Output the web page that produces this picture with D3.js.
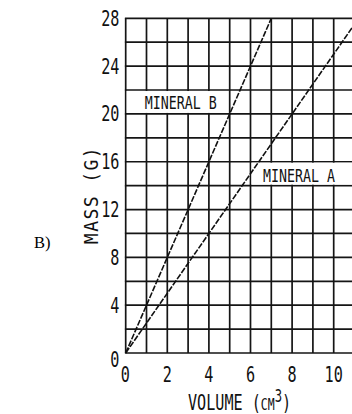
<!DOCTYPE html>
<html>
<head>
<meta charset="utf-8">
<script src="https://cdn.jsdelivr.net/npm/d3@7"></script>
<style>
  html, body { margin: 0; padding: 0; background: #fff; overflow: hidden; }
  svg { display: block; }
</style>
</head>
<body>
<svg id="chart" width="352" height="414"></svg>
<script>
// Mass vs volume for two minerals
const volumeTicks = [0, 2, 4, 6, 8, 10];
const massTicks = [0, 4, 8, 12, 16, 20, 24, 28];
const volumeGrid = [0, 1, 2, 3, 4, 5, 6, 7, 8, 9, 10, 11, 12];
const massGrid = [0, 2, 4, 6, 8, 10, 12, 14, 16, 18, 20, 22, 24, 26, 28];

const mineralAVolume = [0, 11.2];
const mineralAMass = [0, 28];
const mineralBVolume = [0, 7];
const mineralBMass = [0, 28];

const svg = d3.select("#chart");
const x = d3.scaleLinear().domain([0, 12]).range([125.7, 125.7 + 12 * 20.8]);
const y = d3.scaleLinear().domain([0, 28]).range([353, 18.3]);

const mono = "'DejaVu Sans Mono', monospace";

function label(px, py, str, size, anchor, sx, rot) {
  const g = svg.append("g")
    .attr("transform", `translate(${px},${py}) rotate(${rot || 0}) scale(${sx},1)`);
  return g.append("text")
    .attr("text-anchor", anchor)
    .attr("font-family", mono)
    .attr("font-size", size)
    .attr("fill", "#111")
    .text(str);
}

// grid
svg.append("g").selectAll("line.v").data(volumeGrid).join("line")
  .attr("x1", d => x(d)).attr("x2", d => x(d))
  .attr("y1", y(28)).attr("y2", y(0))
  .attr("stroke", "#151515").attr("stroke-width", 1.7);
svg.append("g").selectAll("line.h").data(massGrid).join("line")
  .attr("x1", x(0) - 0.8).attr("x2", x(12))
  .attr("y1", d => y(d)).attr("y2", d => y(d))
  .attr("stroke", "#151515").attr("stroke-width", 1.7);

// label boxes sit on top of the grid
svg.append("rect")
  .attr("x", x(0) + 1).attr("y", y(22) + 1)
  .attr("width", x(4.5) - x(0) - 1).attr("height", y(20) - y(22) - 2)
  .attr("fill", "#fff");
svg.append("rect")
  .attr("x", x(6.05)).attr("y", y(16) + 1)
  .attr("width", x(12) - x(6.05)).attr("height", y(14) - y(16) - 2)
  .attr("fill", "#fff");

// mineral lines
const line = d3.line().x(d => x(d[0])).y(d => y(d[1]));
[[mineralAVolume, mineralAMass], [mineralBVolume, mineralBMass]].forEach(([v, m]) => {
  svg.append("path")
    .datum(v.map((d, i) => [d, m[i]]))
    .attr("d", line)
    .attr("fill", "none")
    .attr("stroke", "#111")
    .attr("stroke-width", 1.6)
    .attr("stroke-dasharray", "6,1.5");
});

// series labels
label(x(0) + 19, y(20) - 4.5, "MINERAL B", 17.5, "start", 0.76);
label(x(6.6), y(14) - 4, "MINERAL A", 17.5, "start", 0.76);

// tick labels
massTicks.forEach(d => {
  label(119.5, y(d) + 7.5 + (d === 0 ? 6 : 0), String(d), 20.5, "end", 0.74);
});
volumeTicks.forEach(d => {
  label(x(d) + (d === 0 ? -0.5 : 0), 382, String(d), 20.5, "middle", 0.74);
});

// axis titles
const vt = svg.append("g").attr("transform", "translate(188,410) scale(0.72,1)")
  .append("text").attr("font-family", mono).attr("font-size", 21).attr("fill", "#111");
vt.append("tspan").text("VOLUME (");
vt.append("tspan").attr("font-size", 16).text("CM");
vt.append("tspan").attr("font-size", 17).attr("dy", -8).text("3");
vt.append("tspan").attr("dy", 8).text(")");

label(98, 195, "MASS (G)", 19, "middle", 0.95, -90)
  .attr("letter-spacing", 1.5);

// panel letter
svg.append("text")
  .attr("x", 34).attr("y", 248)
  .attr("font-family", "'Liberation Serif', 'Times New Roman', serif")
  .attr("font-size", 16.5)
  .attr("fill", "#000")
  .text("B)");
</script>
</body>
</html>
